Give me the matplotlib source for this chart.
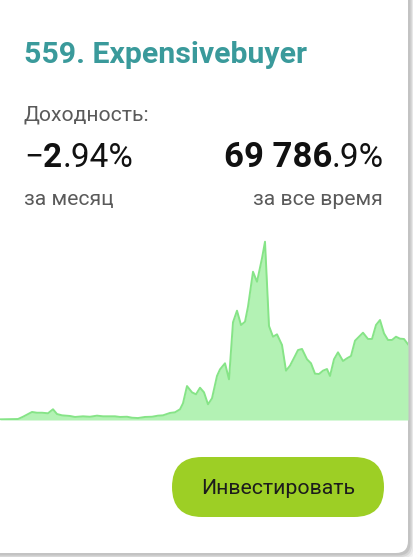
import matplotlib
matplotlib.use("Agg")
import matplotlib.pyplot as plt
from matplotlib.patches import FancyBboxPatch

plt.rcParams['font.family'] = ['Roboto', 'DejaVu Sans']

# equity curve, thousands of % return
days = [0, 18, 23, 32, 37, 42, 48, 53, 57, 62,
        70, 75, 83, 90, 97, 103, 115, 120, 127, 132,
        138, 145, 152, 158, 163, 170, 175, 180, 183, 187,
        192, 196, 200, 204, 208, 212, 217, 220, 225, 229,
        233, 237, 241, 245, 248, 253, 257, 262, 265, 269,
        273, 277, 282, 286, 290, 295, 298, 302, 307, 311,
        315, 319, 323, 327, 330, 334, 338, 343, 347, 351,
        355, 359, 363, 368, 372, 376, 380, 384, 388, 392,
        396, 400, 404, 408]
returns = [0.6, 0.9, 3.0, 7.4, 6.7, 6.7, 6.2, 9.9, 5.5, 4.3,
           3.7, 2.8, 3.4, 3.0, 4.0, 3.4, 3.4, 2.8, 3.0, 2.1,
           1.8, 2.8, 3.0, 4.0, 4.3, 6.5, 7.1, 9.9, 15.4, 31.3,
           25.5, 23.7, 29.8, 25.5, 14.5, 20.0, 40.6, 46.7, 52.3, 37.5,
           90.1, 100.8, 87.6, 90.6, 104.5, 136.7, 127.5, 149.1, 164.4, 86.7,
           76.8, 79.0, 69.2, 45.5, 50.1, 59.0, 64.5, 65.5, 56.0, 52.3,
           42.7, 42.4, 45.5, 47.0, 40.6, 56.0, 62.4, 54.4, 56.9, 59.0,
           73.1, 76.8, 80.5, 74.7, 74.7, 87.6, 92.2, 79.9, 73.8, 73.8,
           76.8, 75.0, 74.7, 69.8]

title = "559. Expensivebuyer"
label_yield = "Доходность:"
month_sign, month_bold, month_rest = "−", "2", ".94%"
total_bold, total_rest = "69 786", ".9%"
label_month = "за месяц"
label_total = "за все время"
button_text = "Инвестировать"

W, H = 413, 557
fig = plt.figure(figsize=(W / 100, H / 100), dpi=100)
fig.patch.set_facecolor("white")

# background axes in pixel coordinates
bg = fig.add_axes([0, 0, 1, 1])
bg.set_xlim(0, W)
bg.set_ylim(H, 0)
bg.axis("off")

# card shadow + card
for i, a in enumerate([0.04, 0.05, 0.07, 0.09]):
    g = 4 - i
    bg.add_patch(FancyBboxPatch((-20 + g * 0.5, -20 + g * 0.5), 429 + g, 574 + g,
                                boxstyle="round,pad=0,rounding_size=12",
                                fc="black", ec="none", alpha=a))
bg.add_patch(FancyBboxPatch((-20, -20), 428, 573,
                            boxstyle="round,pad=0,rounding_size=12",
                            fc="white", ec="none"))

bg.text(24, 63, title, fontsize=21.8, fontweight="bold", color="#3a9a9b")
bg.text(24, 120, label_yield, fontsize=15.2, color="#5a5a5a")
bg.text(24, 205, label_month, fontsize=15.2, color="#5a5a5a")
bg.text(383, 205, label_total, fontsize=15.2, color="#5a5a5a", ha="right")

fig.canvas.draw()
r = fig.canvas.get_renderer()
inv = bg.transData.inverted()


def right_of(t):
    return inv.transform((t.get_window_extent(r).x1, 0))[0]


def left_of(t):
    return inv.transform((t.get_window_extent(r).x0, 0))[0]


t0 = bg.text(24, 167, month_sign, fontsize=24, color="#111111")
t1 = bg.text(right_of(t0), 167, month_bold, fontsize=24, fontweight="bold", color="#111111")
bg.text(right_of(t1), 167, month_rest, fontsize=24, color="#111111")

t2 = bg.text(384, 167, total_rest, fontsize=24, color="#111111", ha="right")
bg.text(left_of(t2), 167, total_bold, fontsize=25, fontweight="bold", color="#111111", ha="right")

# button
bg.add_patch(FancyBboxPatch((172, 457), 212, 60,
                            boxstyle="round,pad=0,rounding_size=30",
                            fc="#9dcf25", ec="none"))
bg.text(278, 488, button_text, fontsize=15.3, color="#1c1c1c", ha="center", va="center")

# chart
ax = fig.add_axes([0, (H - 420) / H, 408 / W, 190 / H])
ax.fill_between(days, returns, 0, color="#b3f2b4", lw=0)
ax.plot(days, returns, color="#86e487", lw=1.4)
ax.set_xlim(0, 408)
ax.set_ylim(0, 175.2)
ax.axis("off")

fig.savefig("out.png", dpi=100)
